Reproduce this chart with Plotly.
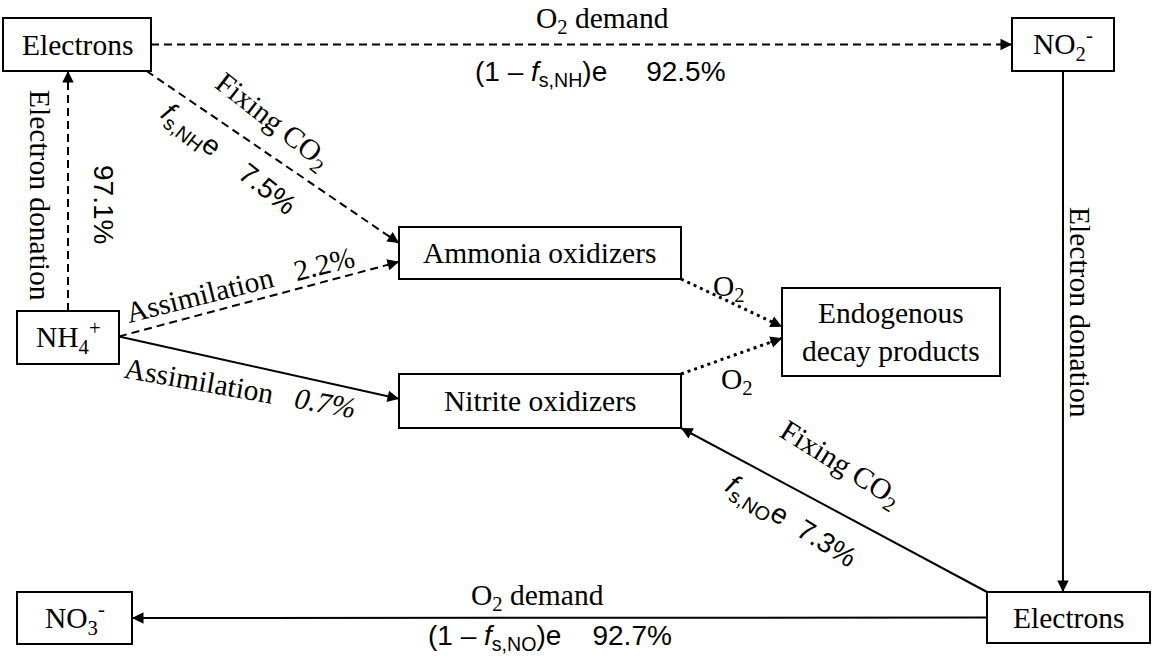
import plotly.graph_objects as go

# nodes of the flow diagram (pixel space, y grows downward)
node_labels = [
    "Electrons",
    "NO<sub>2</sub><sup>-</sup>",
    "NH<sub>4</sub><sup>+</sup>",
    "Ammonia oxidizers",
    "Nitrite oxidizers",
    "Endogenous<br>decay products",
    "Electrons",
    "NO<sub>3</sub><sup>-</sup>",
]
node_keys = ["e1", "no2", "nh4", "ao", "nob", "edp", "e2", "no3"]
box_x0 = [3, 1012, 17, 399, 399, 782, 987, 17]
box_x1 = [151, 1114, 119, 681, 681, 1000, 1150, 132]
box_y0 = [18, 18, 311, 227, 374, 288, 592, 592]
box_y1 = [71, 71, 364, 279, 428, 376, 643, 644]

# edges: tail node + anchor fraction, head node + anchor fraction, style
edge_from = ["e1", "nh4", "e1", "nh4", "nh4", "ao", "nob", "no2", "e2", "e2"]
edge_from_fx = [1, 0.5, 0.97, 1, 1, 1, 1, 0.5, 0, 0]
edge_from_fy = [0.5, 0, 1, 0.48, 0.48, 1, 0, 1, 0, 0.5]
edge_to = ["no2", "e1", "ao", "ao", "nob", "edp", "edp", "e2", "nob", "no3"]
edge_to_fx = [0, 0.439, 0, 0, 0, 0, 0, 0.466, 1, 1]
edge_to_fy = [0.5, 1, 0.31, 0.67, 0.46, 0.44, 0.57, 0, 1, 0.5]
edge_style = ["dash", "dash", "dash", "dash", "solid", "dot", "dot", "solid", "solid", "solid"]

SP = "\u00a0"
label_text = [
    "O<sub>2</sub> demand",
    "(1 – <i>f</i><sub>s,NH</sub>)e" + SP * 5 + "92.5%",
    "Electron donation",
    "97.1%",
    "Fixing CO<sub>2</sub>",
    "<i>f</i><sub>s,NH</sub>e" + SP * 4 + "7.5%",
    "Assimilation" + SP * 3 + "2.2%",
    "Assimilation" + SP * 3 + "<i>0.7%</i>",
    "O<sub>2</sub>",
    "O<sub>2</sub>",
    "Electron donation",
    "Fixing CO<sub>2</sub>",
    "<i>f</i><sub>s,NO</sub>e" + SP * 2 + "7.3%",
    "O<sub>2</sub> demand",
    "(1 – <i>f</i><sub>s,NO</sub>)e" + SP * 4 + "92.7%",
]
label_x = [602, 600, 40, 104, 272, 228, 240, 240, 729, 737, 1080, 840, 790, 537, 550]
label_y = [20, 73, 195, 204, 122, 160, 285, 388, 288, 381, 312, 465, 522, 597, 637]
label_angle = [0, 0, 90, 90, 38, 38, -14, 10, 0, 0, 90, 32, 32, 0, 0]
label_sans = [False, True, False, True, False, True, False, False, False, False, False, False, True, False, True]

SERIF = "Liberation Serif, Times New Roman, serif"
SANS = "Liberation Sans, Arial, sans-serif"

fig = go.Figure()

idx = {k: i for i, k in enumerate(node_keys)}


def anchor(key, fx, fy):
    i = idx[key]
    return (box_x0[i] + fx * (box_x1[i] - box_x0[i]),
            box_y0[i] + fy * (box_y1[i] - box_y0[i]))


dash_map = {"dash": "8px,5px", "dot": "3px,4px", "solid": "solid"}
annotations = []
for k in range(len(edge_from)):
    x0, y0 = anchor(edge_from[k], edge_from_fx[k], edge_from_fy[k])
    x1, y1 = anchor(edge_to[k], edge_to_fx[k], edge_to_fy[k])
    fig.add_trace(
        go.Scatter(
            x=[x0, x1],
            y=[y0, y1],
            mode="lines",
            line=dict(color="black", width=3 if edge_style[k] == "dot" else 2,
                      dash=dash_map[edge_style[k]]),
            showlegend=False,
            hoverinfo="skip",
        )
    )
    # short arrow just for the head
    L = ((x1 - x0) ** 2 + (y1 - y0) ** 2) ** 0.5
    tx = x1 - (x1 - x0) / L * 14
    ty = y1 - (y1 - y0) / L * 14
    annotations.append(dict(
        x=x1, y=y1, ax=tx, ay=ty, xref="x", yref="y", axref="x", ayref="y",
        showarrow=True, arrowhead=2, arrowsize=1.15, arrowwidth=2,
        arrowcolor="black", text="", standoff=0,
    ))

shapes = []
for i in range(len(node_labels)):
    shapes.append(dict(
        type="rect", xref="x", yref="y",
        x0=box_x0[i], x1=box_x1[i], y0=box_y0[i], y1=box_y1[i],
        line=dict(color="black", width=2), fillcolor="white", layer="above",
    ))
    annotations.append(dict(
        x=(box_x0[i] + box_x1[i]) / 2, y=(box_y0[i] + box_y1[i]) / 2,
        xref="x", yref="y", text=node_labels[i], showarrow=False,
        font=dict(family=SERIF, size=29.5, color="black"),
        xanchor="center", yanchor="middle",
    ))

for i in range(len(label_text)):
    annotations.append(dict(
        x=label_x[i], y=label_y[i], xref="x", yref="y", text=label_text[i],
        showarrow=False, textangle=label_angle[i],
        font=dict(family=SANS if label_sans[i] else SERIF,
                  size=28 if label_sans[i] else 29.5, color="black"),
        xanchor="center", yanchor="middle",
    ))

fig.update_layout(
    width=1152,
    height=666,
    margin=dict(l=0, r=0, t=0, b=0),
    paper_bgcolor="white",
    plot_bgcolor="white",
    xaxis=dict(range=[0, 1152], visible=False, fixedrange=True),
    yaxis=dict(range=[666, 0], visible=False, fixedrange=True),
    shapes=shapes,
    annotations=annotations,
    showlegend=False,
)

fig.write_html("out.html", config={"displayModeBar": False},
               post_script="document.body.style.margin='0';")
